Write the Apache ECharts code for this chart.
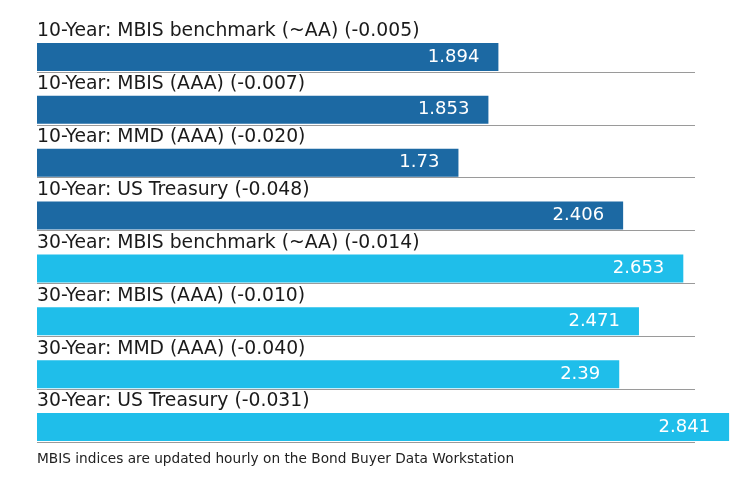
<!DOCTYPE html>
<html>
<head>
<meta charset="utf-8">
<script src="https://cdn.jsdelivr.net/npm/echarts@6/dist/echarts.min.js"></script>
<style>
html,body{margin:0;padding:0;background:#fff;}
#chart{width:740px;height:490px;}
</style>
</head>
<body>
<div id="chart"></div>
<script>
const categories = [
  "10-Year: MBIS benchmark (~AA) (-0.005)",
  "10-Year: MBIS (AAA) (-0.007)",
  "10-Year: MMD (AAA) (-0.020)",
  "10-Year: US Treasury (-0.048)",
  "30-Year: MBIS benchmark (~AA) (-0.014)",
  "30-Year: MBIS (AAA) (-0.010)",
  "30-Year: MMD (AAA) (-0.040)",
  "30-Year: US Treasury (-0.031)"
];
const yields = [1.894, 1.853, 1.73, 2.406, 2.653, 2.471, 2.39, 2.841];
const footnote = "MBIS indices are updated hourly on the Bond Buyer Data Workstation";

const DARK = "#1c69a3";
const LIGHT = "#1fbeea";

const chart = echarts.init(document.getElementById('chart'), null, {renderer: 'canvas'});
chart.setOption({
  animation: false,
  title: {
    text: footnote,
    left: 37, top: 452, padding: 0,
    textStyle: {fontFamily: "DejaVu Sans", fontSize: 13.7, fontWeight: 'normal', color: '#222'}
  },
  grid: {left: 37, right: 45, top: 19, height: 423, containLabel: false},
  xAxis: {type: 'value', min: 0, max: 2.701, show: false},
  yAxis: {
    type: 'category', data: categories, inverse: true,
    axisLine: {show: false}, axisTick: {show: false}, axisLabel: {show: false},
    splitLine: {show: true, interval: function (i) { return i !== 0; }, lineStyle: {color: '#9a9a9a', width: 1}}
  },
  series: [
    {
      type: 'bar', data: categories.map(() => 0), barWidth: 23, barGap: 0,
      itemStyle: {color: 'transparent'}, silent: true,
      label: {
        show: true, position: 'right', distance: 0, formatter: '{b}',
        fontFamily: "DejaVu Sans", fontSize: 18.8, color: '#1a1a1a'
      }
    },
    {
      type: 'bar', data: yields, barWidth: 28, barGap: 0, clip: false,
      itemStyle: {color: function (p) { return p.name.indexOf('10-Year') === 0 ? DARK : LIGHT; }},
      label: {
        show: true, position: 'insideRight', distance: 19,
        fontFamily: "DejaVu Sans", fontSize: 18, color: '#fff'
      }
    }
  ]
});
</script>
</body>
</html>
